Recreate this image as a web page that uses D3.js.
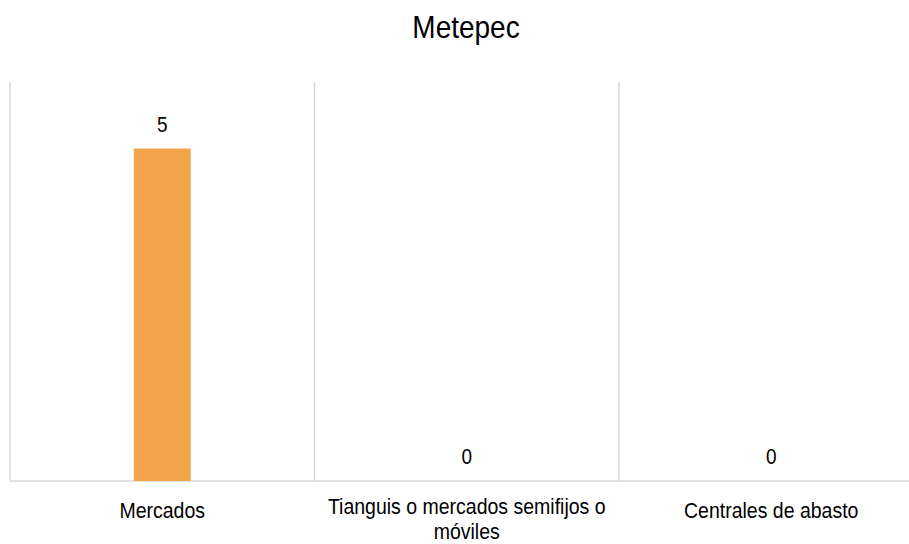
<!DOCTYPE html>
<html>
<head>
<meta charset="utf-8">
<script src="https://cdn.jsdelivr.net/npm/d3@7"></script>
<style>
  html, body { margin: 0; padding: 0; background: #fff; }
  svg { display: block; font-family: "Liberation Sans", Arial, sans-serif; }
</style>
</head>
<body>
<svg id="chart" width="909" height="544"></svg>
<script>
const title = "Metepec";
const categories = ["Mercados", "Tianguis o mercados semifijos o móviles", "Centrales de abasto"];
const categoryLines = [["Mercados"], ["Tianguis o mercados semifijos o", "móviles"], ["Centrales de abasto"]];
const values = [5, 0, 0];
const yDomain = [0, 6];

const svg = d3.select("#chart");
const plot = { left: 10, right: 923.5, top: 82, bottom: 481 };
const vStretch = 1.15;

const x = d3.scaleBand().domain(categories).range([plot.left, plot.right]).padding(0);
const y = d3.scaleLinear().domain(yDomain).range([plot.bottom, plot.top]);
const barW = x.bandwidth() * 0.187;

function stretchedText(parent, px, py, size, str) {
  return parent.append("g")
    .attr("transform", `translate(${px},${py}) scale(1,${vStretch})`)
    .append("text")
    .attr("text-anchor", "middle")
    .attr("font-size", size)
    .attr("fill", "#000")
    .text(str);
}

// vertical category separators
const edges = categories.map(c => x(c)).concat([x(categories[categories.length - 1]) + x.bandwidth()]);
svg.append("g").selectAll("line").data(edges).join("line")
  .attr("x1", d => d).attr("x2", d => d)
  .attr("y1", plot.top).attr("y2", plot.bottom)
  .attr("stroke", "#d9d9d9").attr("stroke-width", 1.5);

// baseline
svg.append("line")
  .attr("x1", plot.left).attr("x2", plot.right)
  .attr("y1", y(0)).attr("y2", y(0))
  .attr("stroke", "#d9d9d9").attr("stroke-width", 1.5);

// bars
svg.append("g").selectAll("rect").data(values).join("rect")
  .attr("x", (d, i) => x(categories[i]) + x.bandwidth() / 2 - barW / 2)
  .attr("width", barW)
  .attr("y", d => y(d))
  .attr("height", d => y(0) - y(d))
  .attr("fill", "#F2A54A");

// data labels
const dl = svg.append("g");
values.forEach((v, i) => {
  stretchedText(dl, x(categories[i]) + x.bandwidth() / 2, y(v) - 17, 19, String(v));
});

// category labels
const lab = svg.append("g");
categoryLines.forEach((lines, i) => {
  const cx = x(categories[i]) + x.bandwidth() / 2;
  const lh = 25;
  const startY = lines.length > 1 ? 514 : 518;
  lines.forEach((s, j) => {
    stretchedText(lab, cx, startY + j * lh, 19.5, s);
  });
});

// title
stretchedText(svg, 466, 38, 28, title);
</script>
</body>
</html>
